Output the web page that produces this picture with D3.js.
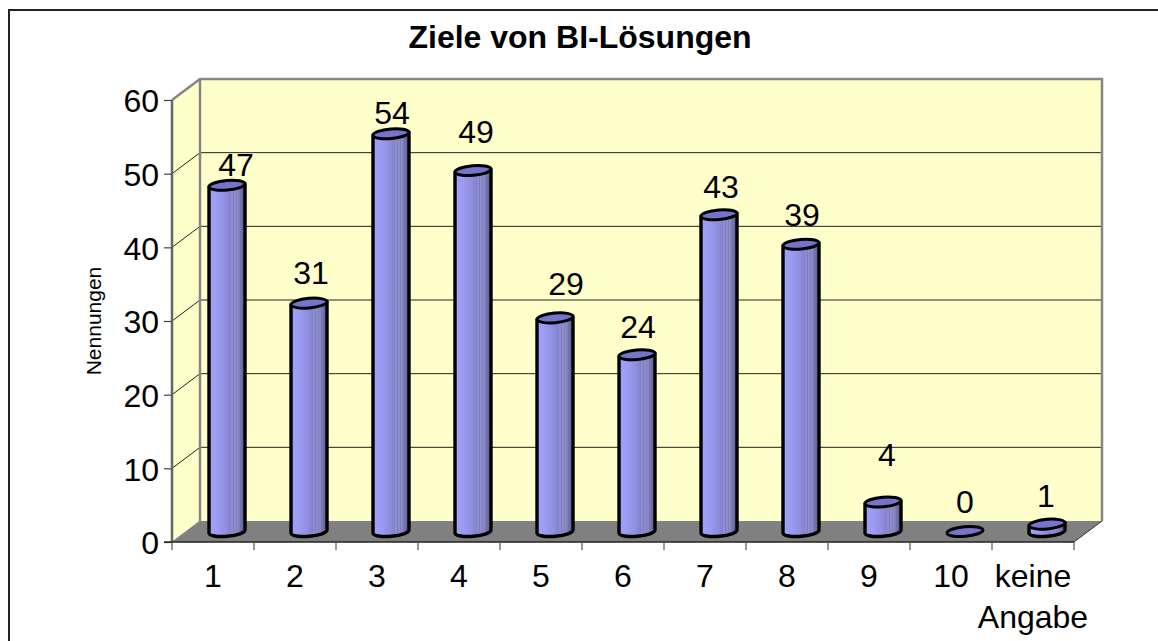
<!DOCTYPE html>
<html><head><meta charset="utf-8">
<script src="https://cdn.jsdelivr.net/npm/d3@7"></script>
<style>html,body{margin:0;padding:0;background:#fff}svg{display:block}text{font-family:"Liberation Sans",Arial,sans-serif;fill:#000}</style>
</head><body><svg id="c" width="1158" height="641"></svg>
<script>
const categories=["1","2","3","4","5","6","7","8","9","10","keine Angabe"];
const values=[47,31,54,49,29,24,43,39,4,0,1];
const yTicks=[0,10,20,30,40,50,60];
const titleText="Ziele von BI-Lösungen";
const yLabel="Nennungen";
const labelGap=[9,19,10,28,23,17,17,18,36,19,17];
const labelShift=[9,2,1,3,11,1,2,1,4,0,-1];

const svg=d3.select("#c");
const dx=28,dy=21;
const x=d3.scaleBand().domain(categories).range([172,1074]);
const y=d3.scaleLinear().domain([0,60]).range([542,100]);

const defs=svg.append("defs");
const g=defs.append("linearGradient").attr("id","cyl");
[[0,"#a0a0fa"],[.2,"#9c9cf4"],[.45,"#9090e0"],[.6,"#8282cc"],[.64,"#9494d6"],[.68,"#7c7cbe"],[.72,"#9696d2"],[.76,"#7e7ebe"],[.8,"#8e8eca"],[.86,"#7676b0"],[1,"#5e5e94"]]
 .forEach(s=>g.append("stop").attr("offset",s[0]).attr("stop-color",s[1]));

// outer frame: only the left and top edges fall inside the picture
svg.append("path").attr("d","M9,641V10H1158").attr("fill","none").attr("stroke","#222").attr("stroke-width",2);
svg.append("text").attr("x",580).attr("y",48).attr("text-anchor","middle").attr("font-weight","bold").attr("font-size",32).text(titleText);

const x0=x.range()[0],x1=x.range()[1],y0=y(0),yT=y(60);
const poly=(p,f)=>svg.append("polygon").attr("points",p.map(d=>d.join(",")).join(" ")).attr("fill",f);
poly([[x0,yT],[x0+dx,yT-dy],[x0+dx,y0-dy],[x0,y0]],"#ffffcc");
poly([[x0+dx,yT-dy],[x1+dx,yT-dy],[x1+dx,y0-dy],[x0+dx,y0-dy]],"#ffffcc");
poly([[x0,y0],[x0+dx,y0-dy],[x1+dx,y0-dy],[x1,y0]],"#808080");

const grid=svg.append("g").attr("stroke","#222").attr("stroke-width",1).attr("fill","none");
yTicks.filter(t=>t>0&&t<60).forEach(t=>{
  grid.append("path").attr("d",d3.line()([[x0,y(t)],[x0+dx,y(t)-dy],[x1+dx,y(t)-dy]]));
});
const wall=svg.append("g").attr("stroke","#868686").attr("stroke-width",2.5).attr("fill","none");
wall.append("path").attr("d",d3.line()([[x0,yT],[x0+dx,yT-dy],[x1+dx,yT-dy],[x1+dx,y0-dy]]));
wall.append("path").attr("d",d3.line()([[x0+dx,yT-dy],[x0+dx,y0-dy]]));
wall.append("path").attr("d",d3.line()([[x0,y0],[x0+dx,y0-dy]])).attr("stroke-width",1);
wall.append("path").attr("d",d3.line()([[x1,y0],[x1+dx,y0-dy]])).attr("stroke-width",1).attr("stroke","#333");

const axisY=d3.axisLeft(y).tickValues(yTicks).tickSize(8).tickPadding(5);
const ay=svg.append("g").attr("transform",`translate(${x0},0)`).call(axisY);
ay.attr("font-family",null);
ay.selectAll("text").attr("font-size",32).attr("dy","0.37em");
ay.selectAll("line").attr("stroke","#444").attr("stroke-width",1.2);
ay.select("path").attr("stroke","#666").attr("stroke-width",2.5).attr("d",`M0,${yT}V${y0}`);

const axisX=d3.axisBottom(x).tickSize(0).tickFormat("");
const ax=svg.append("g").attr("transform",`translate(0,${y0})`).call(axisX);
ax.select("path").attr("stroke","#222").attr("stroke-width",1.5).attr("d",`M${x0-8},0H${x1}`);
const edges=[...categories.map(c=>x(c)),x1];
svg.append("g").selectAll("line").data(edges).join("line")
  .attr("x1",d=>d).attr("x2",d=>d).attr("y1",y0).attr("y2",y0+8).attr("stroke","#555").attr("stroke-width",1.2);
const lab=svg.append("g");
categories.forEach(c=>{
  const cx=x(c)+x.bandwidth()/2;
  const t=lab.append("text").attr("text-anchor","middle").attr("font-size",32);
  c.split(" ").forEach((w,i)=>t.append("tspan").attr("x",cx).attr("y",y0+45+i*41).text(w));
});
svg.append("text").attr("transform","translate(100.5,321) rotate(-90)").attr("text-anchor","middle").attr("font-size",21).text(yLabel);

const rx=18,ry=4.8,rot=-5;
const tilt=rx*Math.sin(rot*Math.PI/180);
const bars=svg.append("g").selectAll("g").data(values.map((v,i)=>({v,c:categories[i]}))).join("g");
const cx=d=>x(d.c)+x.bandwidth()/2+dx/2;
const cy=v=>y(v)-dy/2;
bars.append("path").attr("d",d=>{
  const X=cx(d),t=cy(d.v),b=cy(0);
  return `M${X-rx},${t-tilt}L${X-rx},${b-tilt}A${rx},${ry} ${rot} 0 0 ${X+rx},${b+tilt}L${X+rx},${t+tilt}Z`;
}).attr("fill","url(#cyl)").attr("stroke","#000").attr("stroke-width",d=>d.v>0?3.4:0).attr("stroke-linejoin","round");
bars.append("ellipse").attr("cx",cx).attr("cy",d=>cy(d.v)).attr("rx",rx).attr("ry",ry)
  .attr("transform",d=>`rotate(${rot} ${cx(d)} ${cy(d.v)})`)
  .attr("fill","#7474cc").attr("stroke","#000").attr("stroke-width",3);
bars.append("text").attr("x",(d,i)=>cx(d)+labelShift[i]).attr("y",(d,i)=>cy(d.v)-labelGap[i]).attr("text-anchor","middle").attr("font-size",32).text(d=>d.v);
</script></body></html>
